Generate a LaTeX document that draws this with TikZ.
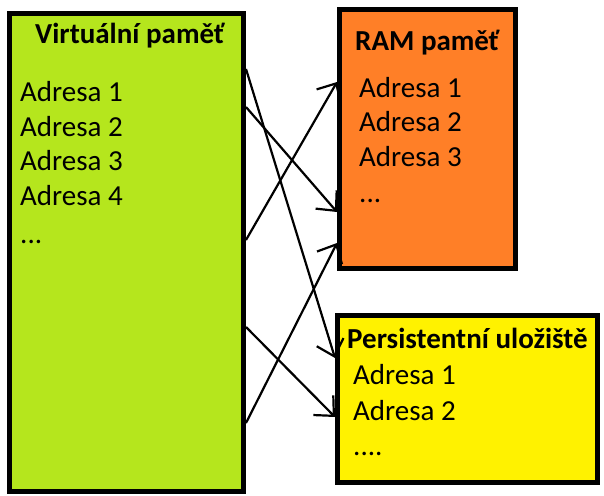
\documentclass[tikz,border=0pt]{standalone}
\usepackage{fontspec}
\setmainfont{Carlito}
\usetikzlibrary{arrows.meta}
\definecolor{virtgreen}{RGB}{181,230,29}
\definecolor{ramorange}{RGB}{255,127,39}
\definecolor{persyellow}{RGB}{255,242,0}

\begin{document}
\begin{tikzpicture}[x=1pt,y=-1pt,
        box/.style={draw,line width=5pt,inner sep=0pt},
        title/.style={anchor=base west,inner sep=0pt,font=\fontsize{29}{29}\selectfont\bfseries},
        item/.style={anchor=base west,inner sep=0pt,font=\fontsize{29}{29}\selectfont},
        link/.style={line width=2.2pt,-{Straight Barb[length=15pt,width=28pt]}}
        ]
    \useasboundingbox (0,0) rectangle (604,495);

        \node (virt) at (126.5,252.5) [box,fill=virtgreen,minimum width=234pt,minimum height=478pt] {};
        \node (ram) at (427.5,139) [box,fill=ramorange,minimum width=176pt,minimum height=259pt] {};
        \node (pers) at (467.5,399) [box,fill=persyellow,minimum width=260pt,minimum height=167pt] {};

        \node (vtitle) at (35,44) [title] {Virtuální paměť};
        \node (v1) at (20,101) [item] {Adresa 1};
        \node (v2) at (20,136) [item] {Adresa 2};
        \node (v3) at (20,170) [item] {Adresa 3};
        \node (v4) at (20,205) [item] {Adresa 4};
        \node (vdots) at (20,243) [item] {...};

        \node (rtitle) at (355,51) [title] {RAM paměť};
        \node (r1) at (359,97) [item] {Adresa 1};
        \node (r2) at (359,131) [item] {Adresa 2};
        \node (r3) at (359,166) [item] {Adresa 3};
        \node (rdots) at (359,202) [item] {...};

        \node (ptitle) at (347,348) [title] {Persistentní uložiště};
        \node (p1) at (353,384) [item] {Adresa 1};
        \node (p2) at (353,420) [item] {Adresa 2};
        \node (pdots) at (353,455) [item] {....};

        \draw[link] (virt.east |- 0,69) -- (pers.west |- 0,358);
        \draw[link] (virt.east |- 0,107) -- (ram.west |- 0,212);
        \draw[link] (virt.east |- 0,240) -- (ram.west |- 0,82);
        \draw[link] (virt.east |- 0,327) -- (pers.west |- 0,417);
        \draw[link] (virt.east |- 0,423) -- (ram.west |- 0,243);
      \end{tikzpicture}
\end{document}
